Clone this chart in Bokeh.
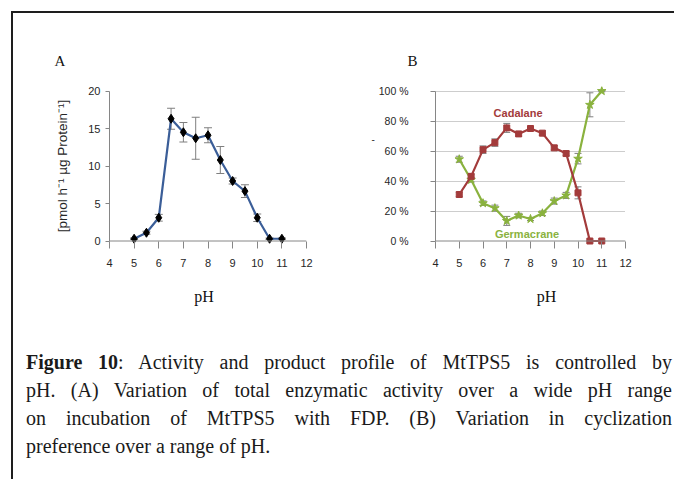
from bokeh.plotting import figure
from bokeh.models import Range1d, FixedTicker, Whisker, TeeHead, ColumnDataSource, Label, Span, Div
from bokeh.layouts import row, column
from bokeh.embed import file_html
from bokeh.resources import INLINE

# ---------------- data ----------------
ph = [5, 5.5, 6, 6.5, 7, 7.5, 8, 8.5, 9, 9.5, 10, 10.5, 11]
activity = [0.3, 1.1, 3.1, 16.3, 14.5, 13.7, 14.1, 10.8, 8.0, 6.65, 3.1, 0.3, 0.3]
activity_err = [0.1, 0.2, 0.45, 1.4, 1.3, 2.8, 1.0, 1.8, 0.4, 0.85, 0.5, 0.1, 0.1]
cadalane = [31.0, 43.1, 60.9, 65.6, 75.4, 71.4, 75.0, 71.9, 62.1, 58.3, 32.1, 0.0, 0.0]
cadalane_err = [1.5, 1.5, 2.5, 2.5, 3.0, 1.5, 1.0, 1.5, 1.5, 1.5, 4.0, 0.5, 0.5]
germacrane = [54.5, 40.8, 25.2, 21.9, 13.4, 17.0, 14.7, 18.5, 26.6, 30.4, 54.9, 90.8, 100.0]
germacrane_err = [2.0, 1.5, 1.5, 2.0, 3.0, 1.5, 1.0, 1.5, 2.0, 2.0, 3.5, 8.0, 0.5]
x_ticks = [4, 5, 6, 7, 8, 9, 10, 11, 12]
a_y_ticks = [0, 5, 10, 15, 20]
b_y_ticks = [0, 20, 40, 60, 80, 100]
b_y_labels = ["0 %", "20 %", "40 %", "60 %", "80 %", "100 %"]
a_ylabel = "[pmol h\u207b\u00b9 \u00b5g Protein\u207b\u00b9]"
caption_lines = [
    "<b>Figure 10</b>: Activity and product profile of MtTPS5 is controlled by",
    "pH. (A) Variation of total enzymatic activity over a wide pH range",
    "on incubation of MtTPS5 with FDP. (B) Variation in cyclization",
    "preference over a range of pH.",
]

# ---------------- styles ----------------
AX = "#868686"
TICK_FONT = "Liberation Sans"
SERIF = "Liberation Serif"
BLUE = "#3B5E98"
RED = "#A33B3B"
GREEN = "#8AB23E"
ERR = "#7f7f7f"
NB = "\u00a0"

# shared layout of both panels (borders are aligned by the row)
FIG_H, TOP, FRAME_H = 300, 73, 159
BOTTOM = FIG_H - TOP - FRAME_H
TITLE_STANDOFF = 35


def make_fig(width, left, frame_w, xr, yr):
    p = figure(width=width, height=FIG_H, x_range=Range1d(*xr), y_range=Range1d(*yr),
               output_backend="svg", toolbar_location=None,
               min_border_left=left, min_border_right=width - left - frame_w,
               min_border_top=TOP, min_border_bottom=BOTTOM)
    p.outline_line_color = None
    p.background_fill_color = "white"
    p.border_fill_color = "white"
    p.xgrid.visible = False
    for ax in (p.xaxis[0], p.yaxis[0]):
        ax.major_label_text_font = TICK_FONT
        ax.major_label_text_font_size = "11px"
        ax.major_label_text_color = "#262626"
        ax.major_tick_line_color = AX
        ax.minor_tick_line_color = None
        ax.axis_line_color = AX
    p.xaxis.ticker = FixedTicker(ticks=x_ticks)
    p.xaxis.axis_line_color = None
    p.xaxis.major_tick_in = round(-yr[0] * FRAME_H / (yr[1] - yr[0]))
    p.xaxis.major_tick_out = 3
    p.xaxis.major_label_standoff = 10
    p.xaxis.axis_label_text_font = SERIF
    p.xaxis.axis_label_text_font_style = "normal"
    p.xaxis.axis_label_text_font_size = "16px"
    p.xaxis.axis_label_text_color = "#111"
    p.xaxis.axis_label_standoff = 18
    p.yaxis.major_tick_in = 0
    p.title.text_font = SERIF
    p.title.text_font_size = "15px"
    p.title.text_font_style = "normal"
    p.title.text_color = "#111"
    p.title.align = "left"
    p.title.standoff = TITLE_STANDOFF
    p.add_layout(Span(location=0, dimension="width", line_color=AX, line_width=1))
    return p


def err_bars(p, src, size):
    p.add_layout(Whisker(base="x", upper="up", lower="lo", source=src, dimension="height",
                         line_color=ERR, line_width=1,
                         upper_head=TeeHead(size=size, line_color=ERR, line_width=1),
                         lower_head=TeeHead(size=size, line_color=ERR, line_width=1)))


def series_source(vals, errs):
    return ColumnDataSource(dict(x=ph, y=vals,
                                 up=[v + e for v, e in zip(vals, errs)],
                                 lo=[v - e for v, e in zip(vals, errs)]))


# ---------------- panel A ----------------
A_W = 355
pa = make_fig(A_W, 96, 197, (4, 12), (-0.6, 20.6))
pa.title.text = "A"
pa.title.offset = -55
pa.yaxis.ticker = FixedTicker(ticks=a_y_ticks)
pa.yaxis.bounds = (0, 20)
pa.yaxis.major_tick_out = 4
pa.yaxis.major_label_standoff = 5
pa.yaxis.axis_label = a_ylabel
pa.yaxis.axis_label_text_font = "Liberation Sans"
pa.yaxis.axis_label_text_font_style = "normal"
pa.yaxis.axis_label_text_font_size = "13.5px"
pa.yaxis.axis_label_text_color = "#262626"
pa.yaxis.axis_label_standoff = 15
pa.ygrid.visible = False
pa.xaxis.axis_label = "pH" + NB * 2

src_a = series_source(activity, activity_err)
err_bars(pa, src_a, 8)
pa.line("x", "y", source=src_a, line_color=BLUE, line_width=2.2)
pa.scatter("x", "y", source=src_a, marker="diamond", size=9, color="black")

# ---------------- panel B ----------------
B_W = 306
B_YR = (-3, 103)
pb = make_fig(B_W, 66, 191, (4, 12), B_YR)
pb.title.text = "B"
pb.title.offset = -28
pb.yaxis.ticker = FixedTicker(ticks=b_y_ticks)
pb.yaxis.major_label_overrides = {t: s for t, s in zip(b_y_ticks, b_y_labels)}
pb.yaxis.major_label_text_font_size = "10.5px"
pb.yaxis.bounds = (0, 100)
pb.yaxis.major_tick_out = 5
pb.yaxis.major_label_standoff = 22
pb.yaxis.axis_label = "-\n" + "\n".join([NB] * 4)
pb.yaxis.axis_label_orientation = "horizontal"
pb.yaxis.axis_label_text_font = "Liberation Sans"
pb.yaxis.axis_label_text_font_style = "normal"
pb.yaxis.axis_label_text_font_size = "10px"
pb.yaxis.axis_label_text_color = "#333"
pb.yaxis.axis_label_standoff = 1
pb.ygrid.ticker = FixedTicker(ticks=b_y_ticks[1:])
pb.ygrid.grid_line_color = "#9a9a9a"
pb.ygrid.grid_line_dash = "1 1"
pb.ygrid.grid_line_width = 1
pb.xaxis.axis_label = NB * 8 + "pH"

src_c = series_source(cadalane, cadalane_err)
src_g = series_source(germacrane, germacrane_err)
err_bars(pb, src_c, 7)
err_bars(pb, src_g, 7)
pb.line("x", "y", source=src_g, line_color=GREEN, line_width=2.2)
pb.scatter("x", "y", source=src_g, marker="star", size=9, color=GREEN)
pb.line("x", "y", source=src_c, line_color=RED, line_width=2.2)
pb.scatter("x", "y", source=src_c, marker="square", size=6, color=RED)


def b_pt(px, py):
    # page pixel -> panel B data (frame left at page 434, frame top at page 86)
    return (4 + (px - 434) / 191 * 8,
            B_YR[1] - (py - 86) * (B_YR[1] - B_YR[0]) / FRAME_H)


x, y = b_pt(517, 112)
pb.add_layout(Label(x=x, y=y, text="Cadalane", text_font=TICK_FONT, text_font_size="11px",
                    text_font_style="bold", text_align="center", text_baseline="middle",
                    text_color=RED))
x, y = b_pt(526, 233)
pb.add_layout(Label(x=x, y=y, text="Germacrane", text_font=TICK_FONT, text_font_size="11px",
                    text_font_style="bold", text_align="center", text_baseline="middle",
                    text_color=GREEN))

# ---------------- caption ----------------
line_divs = []
for i, ln in enumerate(caption_lines):
    last = i == len(caption_lines) - 1
    al = "text-align:left;" if last else "text-align:justify;text-align-last:justify;"
    line_divs.append(f'<div style="{al}white-space:nowrap;">{ln}</div>')
cap_html = ('<div style="box-sizing:border-box;font-family:\'Liberation Serif\';font-size:20px;'
            'line-height:28px;color:#1a1a1a;padding:35px 0 0 13px;width:659px;">'
            + "".join(line_divs) + "</div>")
cap = Div(text=cap_html, width=A_W + B_W, height=166, margin=(0, 0, 0, 0))

layout = column(row(pa, pb), cap, margin=(11, 0, 0, 11),
                styles={"border-top": "2px solid #1e1e1e", "border-left": "2px solid #1e1e1e"})

open("out.html", "w").write(file_html(layout, INLINE))
